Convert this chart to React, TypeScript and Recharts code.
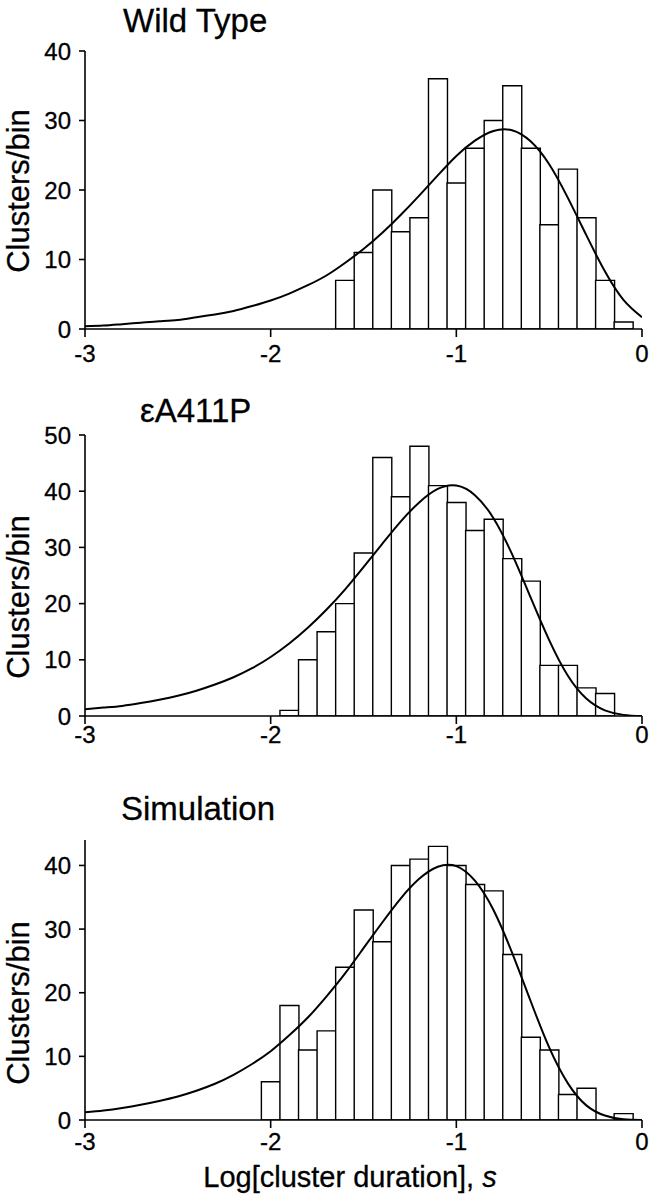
import { Bar, ComposedChart, Line, XAxis, YAxis } from "recharts";

const FONT = '"Liberation Sans", Arial, Helvetica, sans-serif';

// log10 positions where the fitted curve was sampled
const fitX = [
  -3, -2.9, -2.8, -2.7, -2.6, -2.5, -2.4, -2.3, -2.2, -2.1, -2, -1.9, -1.8, -1.7, -1.6, -1.5,
  -1.4, -1.3, -1.2, -1.1, -1, -0.9, -0.8, -0.7, -0.6, -0.5, -0.4, -0.3, -0.2, -0.1, 0,
];
const xTicks = [-3, -2, -1, 0];

// Wild Type
const wtBins = [-1.6, -1.5, -1.4, -1.3, -1.2, -1.1, -1, -0.9, -0.8, -0.7, -0.6, -0.5, -0.4, -0.3, -0.2, -0.1];
const wtCounts = [7, 11, 20, 14, 16, 36, 21, 26, 30, 35, 26, 15, 23, 16, 7, 1];
const wtFit = [
  0.4, 0.5, 0.7, 0.9, 1.1, 1.3, 1.7, 2.1, 2.6, 3.3, 4.1, 5.1, 6.3, 7.7, 9.5, 11.5,
  13.8, 16.4, 19.2, 22.1, 24.9, 27.1, 28.5, 28.6, 27.0, 23.7, 18.9, 13.5, 8.3, 4.2, 1.7,
];

// eA411P
const mutBins = [-1.9, -1.8, -1.7, -1.6, -1.5, -1.4, -1.3, -1.2, -1.1, -1, -0.9, -0.8, -0.7, -0.6, -0.5, -0.4, -0.3, -0.2];
const mutCounts = [1, 10, 15, 20, 29, 46, 39, 48, 41, 38, 33, 35, 28, 24, 9, 9, 5, 4];
const mutFit = [
  1.2, 1.5, 1.8, 2.3, 2.9, 3.6, 4.5, 5.6, 6.9, 8.5, 10.5, 12.9, 15.7, 18.9, 22.5, 26.5,
  30.6, 34.6, 38.0, 40.4, 41.0, 39.3, 35.2, 28.8, 21.1, 13.5, 7.2, 3.1, 1.0, 0.2, 0.0,
];

// Simulation
const simBins = [-2, -1.9, -1.8, -1.7, -1.6, -1.5, -1.4, -1.3, -1.2, -1.1, -1, -0.9, -0.8, -0.7, -0.6, -0.5, -0.4, -0.3, -0.2, -0.1];
const simCounts = [6, 18, 11, 14, 24, 33, 28, 40, 41, 43, 40, 37, 36, 26, 13, 11, 4, 5, 0, 1];
const simFit = [
  1.2, 1.5, 1.9, 2.4, 3.0, 3.7, 4.6, 5.7, 7.1, 8.8, 10.8, 13.3, 16.1, 19.4, 23.0, 27.0,
  31.0, 34.8, 37.9, 39.8, 39.9, 37.6, 33.0, 26.3, 18.7, 11.4, 5.8, 2.3, 0.7, 0.1, 0.0,
];

function buildRows(fit: number[], bins: number[], counts: number[]) {
  return fitX.map((x, i) => {
    const j = bins.findIndex((b) => Math.abs(b - x) < 1e-6);
    return { x, fit: fit[i], count: j >= 0 ? counts[j] : null };
  });
}

type PanelProps = {
  top: number;
  height: number;
  plotTop: number;
  plotBottom: number;
  yMax: number;
  yTicks: number[];
  data: { x: number; fit: number; count: number | null }[];
  yLabelY: number;
  xTickGap: number;
  title: string;
  titleX: number;
  titleBaseline: number;
  showXLabel?: boolean;
};

function Panel(p: PanelProps) {
  const axisStyle = { stroke: "#000", strokeWidth: 1.6 };
  const tickStyle = { fill: "#000", fontSize: 24, fontFamily: FONT, stroke: "#000", strokeWidth: 0.3 };
  return (
    <div style={{ position: "absolute", left: 0, top: p.top, width: 650, height: p.height }}>
      <div
        style={{
          position: "absolute",
          left: p.titleX,
          top: p.titleBaseline - 28,
          fontFamily: FONT,
          fontSize: 33,
          lineHeight: 1,
          whiteSpace: "nowrap",
          color: "#000",
          WebkitTextStroke: "0.3px #000",
        }}
      >
        {p.title}
      </div>
      <ComposedChart
        width={650}
        height={p.height}
        data={p.data}
        margin={{ top: p.plotTop, right: 8, left: 0, bottom: 0 }}
        barCategoryGap={0}
        barGap={0}
      >
        <XAxis
          type="number"
          dataKey="x"
          domain={[-3, 0]}
          ticks={xTicks}
          interval={0}
          allowDataOverflow
          height={p.height - p.plotBottom}
          axisLine={axisStyle}
          tickLine={axisStyle}
          tickSize={8}
          tickMargin={p.xTickGap}
          tick={tickStyle}
          label={
            p.showXLabel
              ? () => (
                  <text x={350} y={427} textAnchor="middle" fontSize={29} fontFamily={FONT} fill="#000" stroke="#000" strokeWidth={0.3}>
                    Log[cluster duration], <tspan fontStyle="italic">s</tspan>
                  </text>
                )
              : undefined
          }
        />
        <YAxis
          type="number"
          domain={[0, p.yMax]}
          ticks={p.yTicks}
          interval={0}
          allowDataOverflow
          width={85}
          axisLine={axisStyle}
          tickLine={axisStyle}
          tickSize={6}
          tickMargin={8}
          tick={tickStyle}
          label={() => (
            <text
              x={29}
              y={p.yLabelY}
              transform={`rotate(-90 29 ${p.yLabelY})`}
              textAnchor="middle"
              fontSize={31}
              fontFamily={FONT}
              fill="#000"
              stroke="#000"
              strokeWidth={0.3}
            >
              Clusters/bin
            </text>
          )}
        />
        <Bar dataKey="count" fill="#fff" stroke="#000" strokeWidth={1.4} isAnimationActive={false} />
        <Line
          dataKey="fit"
          type="natural"
          stroke="#000"
          strokeWidth={2}
          dot={false}
          activeDot={false}
          isAnimationActive={false}
        />
      </ComposedChart>
    </div>
  );
}

export default function App() {
  return (
    <div style={{ position: "absolute", left: 0, top: 0, width: 650, height: 1200, background: "#fff" }}>
      <Panel
        top={0}
        height={380}
        plotTop={51}
        plotBottom={329}
        yMax={40}
        yTicks={[0, 10, 20, 30, 40]}
        data={buildRows(wtFit, wtBins, wtCounts)}
        yLabelY={191}
        xTickGap={8}
        title="Wild Type"
        titleX={123}
        titleBaseline={32}
      />
      <Panel
        top={380}
        height={380}
        plotTop={55}
        plotBottom={336}
        yMax={50}
        yTicks={[0, 10, 20, 30, 40, 50]}
        data={buildRows(mutFit, mutBins, mutCounts)}
        yLabelY={217}
        xTickGap={2}
        title="εA411P"
        titleX={140}
        titleBaseline={42}
      />
      <Panel
        top={760}
        height={440}
        plotTop={80}
        plotBottom={360}
        yMax={44}
        yTicks={[0, 10, 20, 30, 40]}
        data={buildRows(simFit, simBins, simCounts)}
        yLabelY={243}
        xTickGap={5}
        title="Simulation"
        titleX={121}
        titleBaseline={60}
        showXLabel
      />
    </div>
  );
}
